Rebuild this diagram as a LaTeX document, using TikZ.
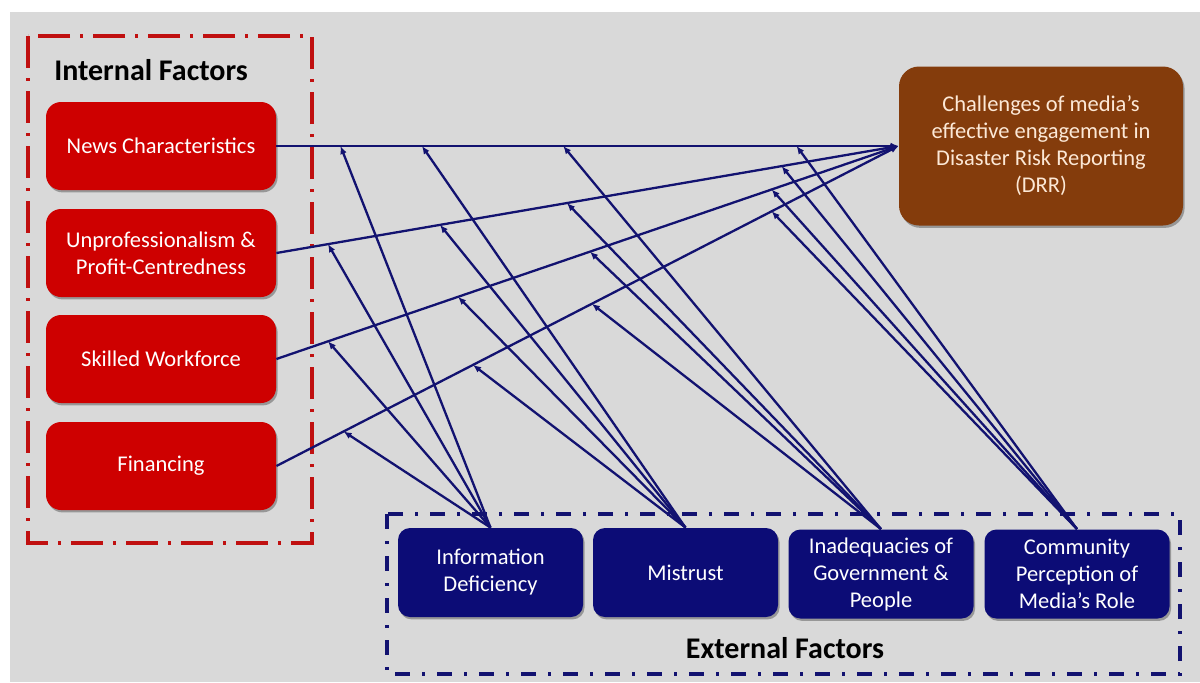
\documentclass[tikz,border=0pt]{standalone}
\usepackage{fontspec}
\setmainfont{Carlito}
\usetikzlibrary{arrows.meta,shadows}
\definecolor{bggray}{RGB}{217,217,217}
\definecolor{boxred}{RGB}{206,0,0}
\definecolor{borderred}{RGB}{192,16,16}
\definecolor{boxnavy}{RGB}{12,12,118}
\definecolor{linenavy}{RGB}{18,18,112}
\definecolor{boxbrown}{RGB}{132,60,12}
\definecolor{cream}{RGB}{252,232,214}
\begin{document}
\begin{tikzpicture}[x=0.5pt,y=-0.5pt,
  txt/.style={font=\fontsize{11.25}{13.5}\selectfont, align=center, inner sep=0pt},
  shade/.style={drop shadow={shadow xshift=0.8pt, shadow yshift=-1.2pt, opacity=0.3, fill=black}},
  redbox/.style={txt, shade, fill=boxred, text=white, rounded corners=7.5pt, minimum width=115pt, minimum height=44pt},
  navybox/.style={txt, shade, fill=boxnavy, text=white, rounded corners=6pt, minimum width=92.5pt, minimum height=44.5pt},
  brownbox/.style={txt, shade, fill=boxbrown, text=cream, rounded corners=10pt, minimum width=142pt, minimum height=79.5pt},
  title/.style={font=\fontsize{15}{18}\selectfont\bfseries, inner sep=0pt},
  redframe/.style={draw=borderred, line width=2pt, dash pattern=on 16pt off 5pt on 1.5pt off 5pt},
  navyframe/.style={draw=linenavy, line width=1.75pt, dash pattern=on 7.5pt off 6pt on 1.5pt off 6pt},
  conn/.style={draw=linenavy, line width=1.15pt, -{Latex[length=4pt,width=3.4pt]}}
]
\useasboundingbox (0,0) rectangle (1200,682);
\fill[white] (0,0) rectangle (1200,682);
\fill[bggray] (10,12) rectangle (1200,682);

% frames
\draw[redframe] (28,36) rectangle (312,543);
\draw[navyframe] (387,514) rectangle (1180,674);

% titles
\node[title] (intitle) at (151,70) {Internal Factors};
\node[title] (extitle) at (785,648) {External Factors};

% internal factor boxes
\node[redbox] (news) at (161,146) {News Characteristics};
\node[redbox] (unprof) at (161,253) {Unprofessionalism \&\\Profit-Centredness};
\node[redbox] (skilled) at (161,359) {Skilled Workforce};
\node[redbox] (fin) at (161,466) {Financing};

% outcome box
\node[brownbox] (drr) at (1041,146) {Challenges of media{\char39}s\\effective engagement in\\Disaster Risk Reporting\\(DRR)};

% external factor boxes
\node[navybox] (info) at (490.5,572.5) {Information\\Deficiency};
\node[navybox] (mistrust) at (685.5,572.5) {Mistrust};
\node[navybox] (inad) at (881,574) {Inadequacies of\\Government \&\\People};
\node[navybox] (comm) at (1077,574) {Community\\Perception of\\Media’s Role};

% points on the internal lines
\path (news.east) -- (drr.west)
  coordinate[pos=0.103] (n1) coordinate[pos=0.234] (n2)
  coordinate[pos=0.461] (n3) coordinate[pos=0.836] (n4);
\path (unprof.east) -- (drr.west)
  coordinate[pos=0.083] (u1) coordinate[pos=0.263] (u2)
  coordinate[pos=0.467] (u3) coordinate[pos=0.812] (u4);
\path (skilled.east) -- (drr.west)
  coordinate[pos=0.083] (s1) coordinate[pos=0.292] (s2)
  coordinate[pos=0.504] (s3) coordinate[pos=0.796] (s4);
\path (fin.east) -- (drr.west)
  coordinate[pos=0.108] (f1) coordinate[pos=0.316] (f2)
  coordinate[pos=0.507] (f3) coordinate[pos=0.796] (f4);

% internal -> outcome
\draw[conn] (news.east) -- (drr.west);
\draw[conn] (unprof.east) -- (drr.west);
\draw[conn] (skilled.east) -- (drr.west);
\draw[conn] (fin.east) -- (drr.west);

% external -> internal lines
\foreach \p in {n1,u1,s1,f1} \draw[conn] (info.north) -- (\p);
\foreach \p in {n2,u2,s2,f2} \draw[conn] (mistrust.north) -- (\p);
\foreach \p in {n3,u3,s3,f3} \draw[conn] (inad.north) -- (\p);
\foreach \p in {n4,u4,s4,f4} \draw[conn] (comm.north) -- (\p);
\end{tikzpicture}
\end{document}
